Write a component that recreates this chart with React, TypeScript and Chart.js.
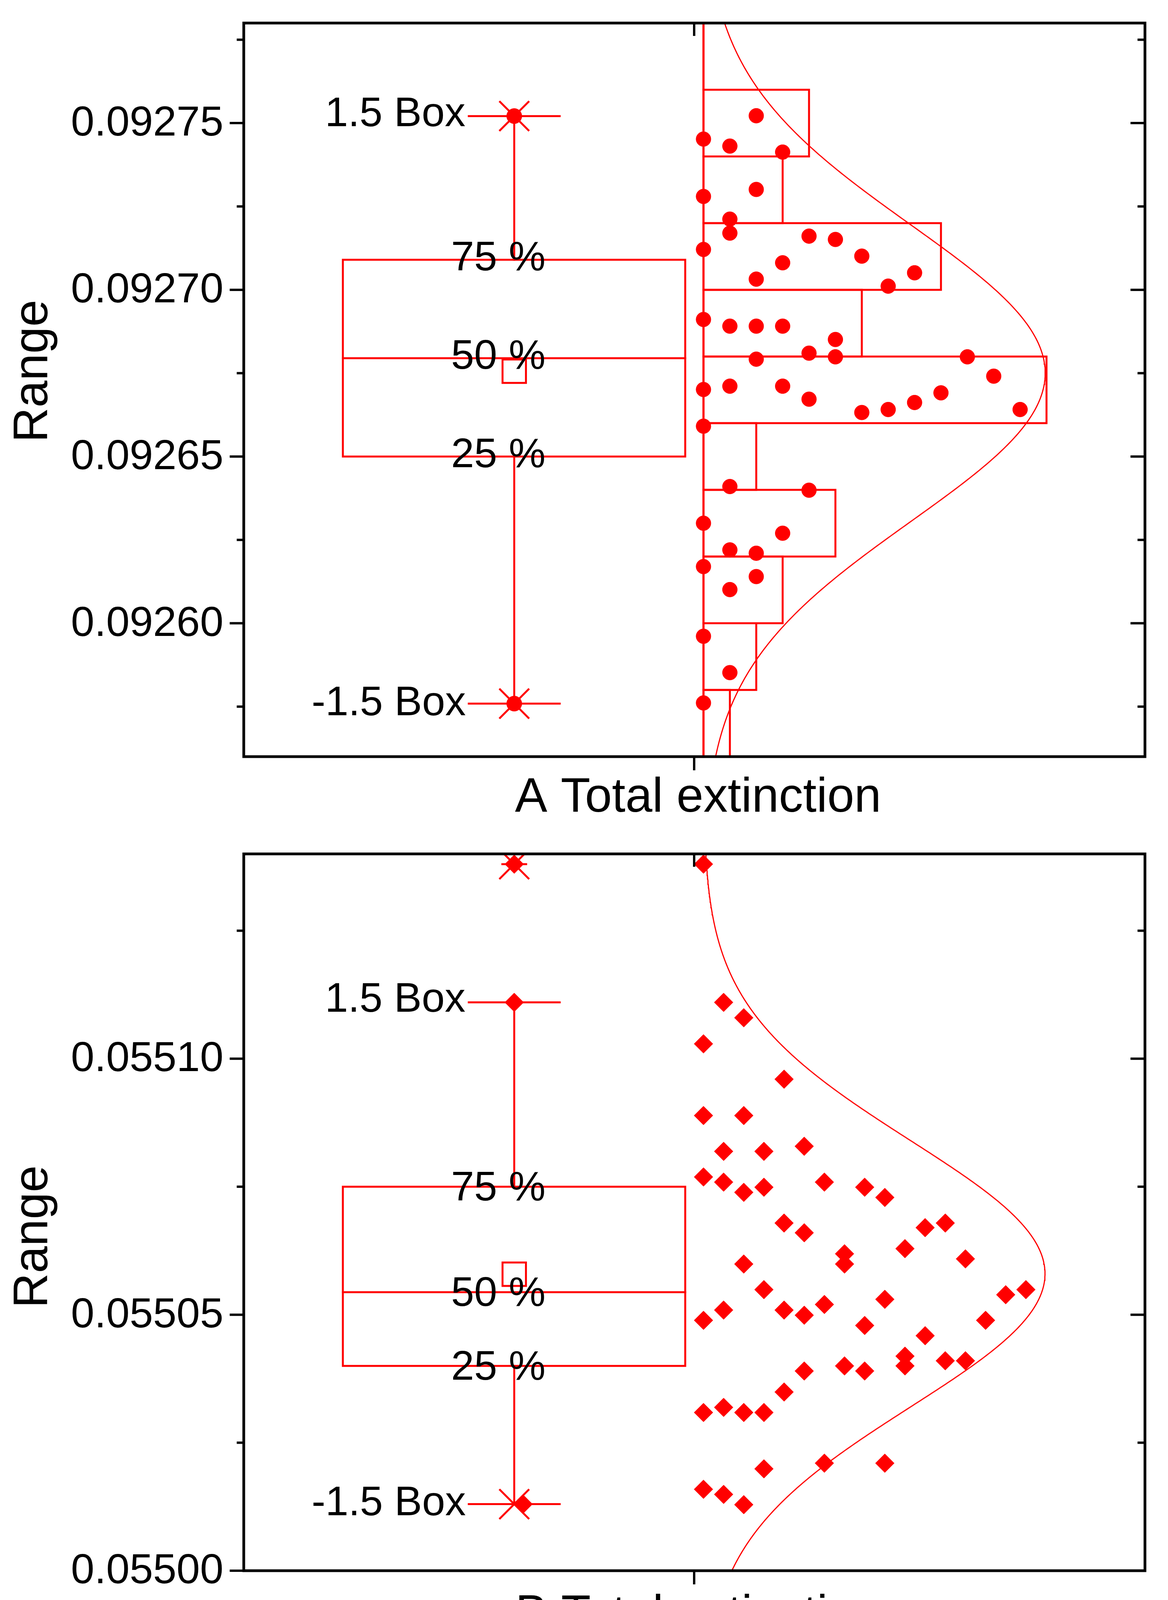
import React, { useEffect, useRef } from 'react';
import { Chart, registerables } from 'chart.js';

Chart.register(...registerables);

const RED = '#ff0000';
const BLACK = '#000000';
const FONT = "'Liberation Sans', Arimo, Arial, sans-serif";
const WIDTH = 2990;

// ---------------- Panel A : A Total extinction ----------------
const A_LABEL = 'A Total extinction';
const A_Y_RANGE = [0.09256, 0.09278];
const A_MAJOR_TICKS = [0.0926, 0.09265, 0.0927, 0.09275];
const A_MINOR_TICKS = [0.092575, 0.092625, 0.092675, 0.092725, 0.092775];
const A_BIN_EDGES = [0.09256, 0.09258, 0.0926, 0.09262, 0.09264, 0.09266, 0.09268, 0.0927, 0.09272, 0.09274, 0.09276, 0.09278];
const A_BIN_COUNTS = [1, 2, 3, 5, 2, 13, 6, 9, 3, 4, 0];
const A_DOT_COLUMN = [
  2, 0, 1, 3,
  2, 0, 1,
  1, 0, 4, 5, 6, 3, 2, 8, 7,
  0, 1, 2, 3, 5, 4,
  2, 5, 10, 11, 0, 1, 3, 4, 9, 8, 7, 6, 12,
  0, 1,
  0, 1, 2, 3, 4,
  0, 2, 1,
  0, 1,
  0,
];
const A_DOT_VALUE = [
  0.0927522, 0.0927452, 0.0927431, 0.0927413,
  0.0927301, 0.092728, 0.0927212,
  0.092717, 0.0927121, 0.0927161, 0.0927151, 0.0927101, 0.0927081, 0.0927032, 0.0927051, 0.0927011,
  0.0926911, 0.0926891, 0.0926891, 0.0926891, 0.0926851, 0.092681,
  0.0926792, 0.0926799, 0.0926799, 0.0926741, 0.0926701, 0.0926711, 0.0926711, 0.0926672, 0.0926691, 0.0926662, 0.0926641, 0.0926632, 0.0926641,
  0.0926591, 0.092641,
  0.09263, 0.092622, 0.092621, 0.092627, 0.0926399,
  0.092617, 0.092614, 0.0926101,
  0.0925961, 0.0925852,
  0.0925761,
];
// lower whisker, 25 %, 50 %, 75 %, upper whisker
const A_BOX_STATS = [0.0925759, 0.09265, 0.0926795, 0.092709, 0.0927521];
const A_MEAN = 0.0926756;
// fitted normal curve: mean, sd, peak height (in dot columns)
const A_FIT = [0.092675, 4.45e-5, 12.95];

// ---------------- Panel B : B Total extinction ----------------
const B_LABEL = 'B Total extinction';
const B_Y_RANGE = [0.055, 0.05514];
const B_MAJOR_TICKS = [0.055, 0.05505, 0.0551];
const B_MINOR_TICKS = [0.055025, 0.055075, 0.055125];
const B_DOT_COLUMN = [
  0, 1, 2, 0, 4, 0, 2, 1, 3, 5,
  0, 1, 2, 3, 6, 8, 9, 4, 5, 11,
  12, 7, 7, 10, 13, 2, 3, 0, 1, 4,
  5, 6, 9, 8, 15, 16, 14, 11, 10, 10,
  12, 13, 5, 7, 8, 4, 0, 1, 2, 3,
  3, 6, 9, 0, 1, 2,
];
const B_DOT_VALUE = [
  0.055138, 0.055111, 0.055108, 0.0551029, 0.055096, 0.0550889, 0.0550889, 0.0550819, 0.0550819, 0.0550829,
  0.0550769, 0.0550759, 0.0550739, 0.0550749, 0.0550759, 0.0550749, 0.0550729, 0.0550679, 0.055066, 0.055067,
  0.0550679, 0.0550619, 0.0550599, 0.0550629, 0.0550609, 0.0550599, 0.0550549, 0.0550489, 0.0550509, 0.0550509,
  0.0550499, 0.055052, 0.055053, 0.0550479, 0.0550539, 0.0550549, 0.0550489, 0.0550459, 0.0550419, 0.05504,
  0.055041, 0.055041, 0.055039, 0.05504, 0.055039, 0.0550349, 0.0550309, 0.0550319, 0.0550309, 0.0550309,
  0.0550199, 0.055021, 0.055021, 0.0550159, 0.0550149, 0.0550129,
];
const B_BOX_STATS = [0.055013, 0.05504, 0.0550544, 0.055075, 0.055111];
const B_MEAN = 0.0550579;
const B_MAX = 0.055138;
const B_FIT = [0.055058, 2.6e-5, 16.95];

// ---------------- helpers ----------------
type Pt = { x: number; y: number };

function lineDs(points: Pt[], width = 5, order = 2): any {
  return {
    type: 'scatter',
    data: points,
    showLine: true,
    borderColor: RED,
    backgroundColor: RED,
    borderWidth: width,
    pointRadius: 0,
    pointHoverRadius: 0,
    borderJoinStyle: 'miter',
    borderCapStyle: 'square',
    fill: false,
    order,
  };
}

function markerDs(points: Pt[], style: string, radius: number, extra: any = {}): any {
  return {
    type: 'scatter',
    data: points,
    showLine: false,
    pointStyle: style,
    pointRadius: radius,
    pointHoverRadius: radius,
    pointBackgroundColor: RED,
    pointBorderColor: RED,
    pointBorderWidth: 1,
    order: 0,
    ...extra,
  };
}

function fitCurve(fit: number[], range: number[]): Pt[] {
  const [mu, sd, peak] = fit;
  const n = 400;
  const pts: Pt[] = [];
  for (let i = 0; i <= n; i++) {
    const y = range[0] + ((range[1] - range[0]) * i) / n;
    pts.push({ x: peak * Math.exp(-((y - mu) * (y - mu)) / (2 * sd * sd)), y });
  }
  return pts;
}

interface Layout {
  boxL: number;
  boxR: number;
  whiskerX: number;
  capHalf: number;
}

function boxDatasets(stats: number[], mean: number, L: Layout): any[] {
  const [lo, q1, med, q3, hi] = stats;
  const w = L.whiskerX;
  return [
    lineDs([
      { x: L.boxL, y: q1 },
      { x: L.boxR, y: q1 },
      { x: L.boxR, y: q3 },
      { x: L.boxL, y: q3 },
      { x: L.boxL, y: q1 },
    ]),
    lineDs([{ x: L.boxL, y: med }, { x: L.boxR, y: med }]),
    lineDs([{ x: w, y: q3 }, { x: w, y: hi }]),
    lineDs([{ x: w, y: lo }, { x: w, y: q1 }]),
    lineDs([{ x: w - L.capHalf, y: hi }, { x: w + L.capHalf, y: hi }]),
    lineDs([{ x: w - L.capHalf, y: lo }, { x: w + L.capHalf, y: lo }]),
    markerDs([{ x: w, y: mean }], 'rect', 42.4, {
      pointBackgroundColor: 'rgba(0,0,0,0)',
      pointBorderWidth: 5,
      order: 1,
    }),
  ];
}

interface PanelSpec {
  top: number;
  height: number;
  padTop: number;
  bottomH: number;
  yRange: number[];
  xRange: number[];
  major: number[];
  minor: number[];
  label: string;
  labelX: number;
  labelBaseline: number;
  titleY: number;
  catX: number;
  layout: Layout;
  stats: number[];
  boxOff: number;
  pctOff: number;
  datasets: any[];
}

// ---------------- panel A ----------------
const A_LAYOUT: Layout = { boxL: -13.667, boxR: -0.692, whiskerX: -7.172, capHalf: 1.723 };
const aDatasets: any[] = [];
for (let i = 0; i < A_BIN_COUNTS.length; i++) {
  const y0 = A_BIN_EDGES[i];
  const y1 = A_BIN_EDGES[i + 1];
  const c = A_BIN_COUNTS[i];
  aDatasets.push(
    lineDs(
      [
        { x: 0, y: y0 },
        { x: c, y: y0 },
        { x: c, y: y1 },
        { x: 0, y: y1 },
        { x: 0, y: y0 },
      ],
      5,
      4,
    ),
  );
}
aDatasets.push(lineDs([{ x: 0, y: A_Y_RANGE[0] }, { x: 0, y: A_Y_RANGE[1] }], 5, 4));
aDatasets.push(lineDs(fitCurve(A_FIT, A_Y_RANGE), 3, 3));
aDatasets.push(...boxDatasets(A_BOX_STATS, A_MEAN, A_LAYOUT));
{
  const w = A_LAYOUT.whiskerX;
  const ends = [{ x: w, y: A_BOX_STATS[4] }, { x: w, y: A_BOX_STATS[0] }];
  aDatasets.push(markerDs(ends, 'circle', 19.5, { order: 1 }));
  aDatasets.push(markerDs(ends, 'crossRot', 54, { pointBorderWidth: 5, order: 1 }));
}
aDatasets.push(
  markerDs(
    A_DOT_COLUMN.map((k, i) => ({ x: k, y: A_DOT_VALUE[i] })),
    'circle',
    19,
  ),
);

const PANEL_A: PanelSpec = {
  top: 0,
  height: 2110,
  padTop: 46,
  bottomH: 173,
  yRange: A_Y_RANGE,
  xRange: [-17.423, 16.731],
  major: A_MAJOR_TICKS,
  minor: A_MINOR_TICKS,
  label: A_LABEL,
  labelX: 1787,
  labelBaseline: 2078,
  titleY: 950,
  catX: -0.353,
  layout: A_LAYOUT,
  stats: A_BOX_STATS,
  boxOff: 26,
  pctOff: 27,
  datasets: aDatasets,
};

// ---------------- panel B ----------------
const B_LAYOUT: Layout = { boxL: -17.898, boxR: -0.906, whiskerX: -9.392, capHalf: 2.257 };
const bDatasets: any[] = [];
bDatasets.push(lineDs(fitCurve(B_FIT, B_Y_RANGE), 3, 3));
bDatasets.push(...boxDatasets(B_BOX_STATS, B_MEAN, B_LAYOUT));
{
  const w = B_LAYOUT.whiskerX;
  bDatasets.push(markerDs([{ x: w, y: B_BOX_STATS[4] }, { x: w, y: B_MAX }, { x: w + 0.44, y: B_BOX_STATS[0] }], 'rectRot', 24, { order: 1 }));
  bDatasets.push(markerDs([{ x: w, y: B_MAX }, { x: w, y: B_BOX_STATS[0] }], 'crossRot', 54, { pointBorderWidth: 5, order: 1 }));
  bDatasets.push(markerDs([{ x: w, y: B_MAX }], 'line', 33, { pointBorderWidth: 5, order: 1 }));
}
bDatasets.push(
  markerDs(
    B_DOT_COLUMN.map((k, i) => ({ x: k, y: B_DOT_VALUE[i] })),
    'rectRot',
    24,
  ),
);

const PANEL_B: PanelSpec = {
  top: 2110,
  height: 2080,
  padTop: 76,
  bottomH: 169,
  yRange: B_Y_RANGE,
  xRange: [-22.816, 21.91],
  major: B_MAJOR_TICKS,
  minor: B_MINOR_TICKS,
  label: B_LABEL,
  labelX: 1788,
  labelBaseline: 2060,
  titleY: 1056,
  catX: -0.463,
  layout: B_LAYOUT,
  stats: B_BOX_STATS,
  boxOff: 24,
  pctOff: 35,
  datasets: bDatasets,
};

function makeDecor(s: PanelSpec) {
  return {
    id: 'decor',
    afterDatasetsDraw(chart: any) {
      const { ctx, chartArea: ca, scales } = chart;
      const xs = scales.x;
      const ys = scales.y;
      ctx.save();
      ctx.strokeStyle = BLACK;
      ctx.lineCap = 'butt';
      ctx.lineWidth = 6;
      const seg = (x1: number, y1: number, x2: number, y2: number) => {
        ctx.beginPath();
        ctx.moveTo(x1, y1);
        ctx.lineTo(x2, y2);
        ctx.stroke();
      };
      for (const t of ys.ticks) {
        const y = ys.getPixelForValue(t.value);
        seg(ca.left - 36, y, ca.left, y);
        seg(ca.right - 37, y, ca.right, y);
      }
      for (const v of s.minor) {
        const y = ys.getPixelForValue(v);
        seg(ca.left - 18, y, ca.left, y);
        seg(ca.right - 19, y, ca.right, y);
      }
      const cx = xs.getPixelForValue(s.catX);
      seg(cx, ca.bottom, cx, ca.bottom + 35);
      seg(cx, ca.top, cx, ca.top + 33);
      ctx.lineWidth = 7;
      ctx.lineJoin = 'miter';
      ctx.strokeRect(ca.left, ca.top, ca.right - ca.left, ca.bottom - ca.top);

      ctx.fillStyle = BLACK;
      ctx.textBaseline = 'alphabetic';
      ctx.font = `108px ${FONT}`;
      ctx.textAlign = 'right';
      for (const t of ys.ticks) {
        ctx.fillText(Number(t.value).toFixed(5), ca.left - 52, ys.getPixelForValue(t.value) + 32);
      }

      ctx.font = `124px ${FONT}`;
      ctx.textAlign = 'center';
      ctx.save();
      ctx.translate(121, s.titleY);
      ctx.rotate(-Math.PI / 2);
      ctx.fillText('Range', 0, 0);
      ctx.restore();
      ctx.fillText(s.label, s.labelX, s.labelBaseline);

      const wx = xs.getPixelForValue(s.layout.whiskerX);
      const [lo, q1, med, q3, hi] = s.stats;
      ctx.font = `106px ${FONT}`;
      ctx.textAlign = 'right';
      ctx.fillText('1.5 Box', wx - 125, ys.getPixelForValue(hi) + s.boxOff);
      ctx.fillText('-1.5 Box', wx - 124, ys.getPixelForValue(lo) + s.boxOff + 4);
      ctx.fillText('75 %', wx + 80, ys.getPixelForValue(q3) + s.pctOff);
      ctx.fillText('50 %', wx + 80, ys.getPixelForValue(med) + s.pctOff);
      ctx.fillText('25 %', wx + 80, ys.getPixelForValue(q1) + s.pctOff);
      ctx.restore();
    },
  };
}

function Panel({ spec }: { spec: PanelSpec }) {
  const ref = useRef<HTMLCanvasElement>(null);
  useEffect(() => {
    const canvas = ref.current;
    if (!canvas) return;
    const chart = new Chart(canvas, {
      type: 'scatter',
      data: { datasets: spec.datasets },
      options: {
        responsive: false,
        maintainAspectRatio: false,
        animation: false,
        devicePixelRatio: 1,
        events: [],
        layout: { padding: { top: spec.padTop, right: WIDTH - 2943, left: 0, bottom: 0 } },
        plugins: { legend: { display: false }, tooltip: { enabled: false } },
        scales: {
          x: {
            type: 'linear',
            min: spec.xRange[0],
            max: spec.xRange[1],
            grid: { display: false, drawTicks: false },
            border: { display: false },
            ticks: { display: false },
            afterFit: (sc: any) => {
              sc.height = spec.bottomH;
            },
          },
          y: {
            type: 'linear',
            position: 'left',
            min: spec.yRange[0],
            max: spec.yRange[1],
            grid: { display: false, drawTicks: false },
            border: { display: false },
            ticks: { display: false },
            afterBuildTicks: (sc: any) => {
              sc.ticks = spec.major.map((v) => ({ value: v }));
            },
            afterFit: (sc: any) => {
              sc.width = 624;
            },
          },
        },
      } as any,
      plugins: [makeDecor(spec)],
    } as any);
    return () => chart.destroy();
  }, [spec]);
  return (
    <canvas
      ref={ref}
      width={WIDTH}
      height={spec.height}
      style={{ position: 'absolute', left: 0, top: spec.top, width: WIDTH, height: spec.height }}
    />
  );
}

export default function App() {
  return (
    <div style={{ position: 'absolute', left: 0, top: 0, width: WIDTH, height: 4190, background: '#ffffff' }}>
      <Panel spec={PANEL_A} />
      <Panel spec={PANEL_B} />
    </div>
  );
}
